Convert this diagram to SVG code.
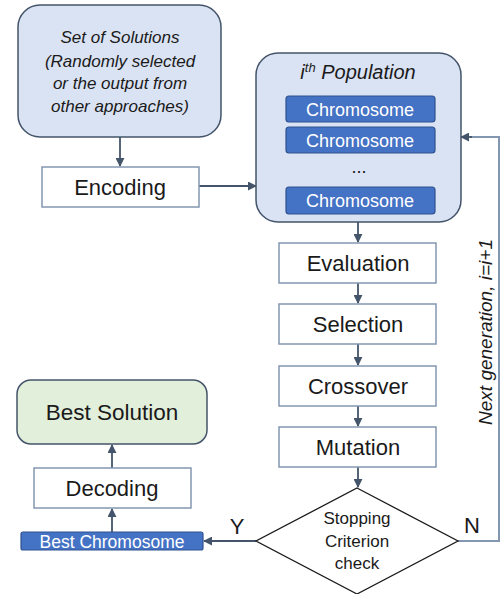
<svg xmlns="http://www.w3.org/2000/svg" width="503" height="594" viewBox="0 0 503 594">
<style>
text{font-family:"Liberation Sans",Arial,sans-serif;fill:#1a1a1a;text-anchor:middle}
.it{font-style:italic}
.step{fill:#ffffff;stroke:#8497b0;stroke-width:1.5}
.stx{font-size:22px}
.chrom{fill:#4472c4;stroke:#2f528f;stroke-width:1.2}
.ct{fill:#ffffff;font-size:18px}
.conn{stroke:#44546a;stroke-width:1.8;fill:none}
.fb{stroke:#8497b0;stroke-width:2;fill:none}
.set{font-size:17px}
.dia{font-size:17px}
</style>
<defs>
<marker id="ah" viewBox="0 0 10 10" refX="9" refY="5" markerWidth="5" markerHeight="5" orient="auto" markerUnits="strokeWidth">
<path d="M0,0 L10,5 L0,10 z" fill="#44546a"/>
</marker>
</defs>
<rect width="503" height="594" fill="#ffffff"/>

<g id="connectors">
<line class="conn" x1="120" y1="137" x2="120" y2="166" marker-end="url(#ah)"/>
<line class="conn" x1="199" y1="186" x2="256" y2="186" marker-end="url(#ah)"/>
<line class="conn" x1="358" y1="222" x2="358" y2="242" marker-end="url(#ah)"/>
<line class="conn" x1="358" y1="283" x2="358" y2="303" marker-end="url(#ah)"/>
<line class="conn" x1="358" y1="344" x2="358" y2="365" marker-end="url(#ah)"/>
<line class="conn" x1="358" y1="406" x2="358" y2="426" marker-end="url(#ah)"/>
<line class="conn" x1="358" y1="467" x2="358" y2="487" marker-end="url(#ah)"/>
<polyline class="fb" points="458,541 499,541 499,137 470,137"/>
<line class="conn" x1="472" y1="137" x2="461" y2="137" marker-end="url(#ah)"/>
<line class="conn" x1="256" y1="541" x2="204" y2="541" marker-end="url(#ah)"/>
<line class="conn" x1="112" y1="532" x2="112" y2="509" marker-end="url(#ah)"/>
<line class="conn" x1="112" y1="468" x2="112" y2="445" marker-end="url(#ah)"/>
</g>

<g id="set-of-solutions">
<rect x="18" y="5" width="203" height="132" rx="22" fill="#dae3f3" stroke="#44546a" stroke-width="1.5"/>
<text class="it set" x="120" y="43">Set of Solutions</text>
<text class="it set" x="120" y="67">(Randomly selected</text>
<text class="it set" x="120" y="89">or the output from</text>
<text class="it set" x="120" y="112">other approaches)</text>
</g>

<g id="encoding">
<rect class="step" x="42" y="167" width="157" height="40"/>
<text class="stx" x="120" y="195">Encoding</text>
</g>

<g id="population">
<rect x="256" y="53" width="205" height="169" rx="22" fill="#dae3f3" stroke="#44546a" stroke-width="1.5"/>
<text class="it" x="358" y="79" font-size="20">i<tspan font-size="13" dy="-7">th</tspan><tspan dy="7"> Population</tspan></text>
<rect class="chrom" x="286" y="96" width="149" height="26" rx="3"/>
<text class="ct" x="360" y="115.5">Chromosome</text>
<rect class="chrom" x="286" y="127" width="149" height="26" rx="3"/>
<text class="ct" x="360" y="146.5">Chromosome</text>
<text x="359" y="173" font-size="18">...</text>
<rect class="chrom" x="286" y="187" width="149" height="27" rx="3"/>
<text class="ct" x="360" y="207">Chromosome</text>
</g>

<g id="evaluation">
<rect class="step" x="279" y="243" width="157" height="40"/>
<text class="stx" x="358" y="271">Evaluation</text>
</g>
<g id="selection">
<rect class="step" x="279" y="304" width="157" height="40"/>
<text class="stx" x="358" y="332">Selection</text>
</g>
<g id="crossover">
<rect class="step" x="279" y="366" width="157" height="40"/>
<text class="stx" x="358" y="394">Crossover</text>
</g>
<g id="mutation">
<rect class="step" x="279" y="427" width="157" height="40"/>
<text class="stx" x="358" y="455">Mutation</text>
</g>

<g id="stopping-check">
<polygon points="357,488 458,541 357,594 256,541" fill="#ffffff" stroke="#1a1a1a" stroke-width="1.3"/>
<text class="dia" x="357" y="524">Stopping</text>
<text class="dia" x="357" y="547">Criterion</text>
<text class="dia" x="357" y="569">check</text>
</g>

<text x="472" y="533" font-size="22">N</text>
<text x="237" y="534" font-size="22">Y</text>
<text class="it" x="0" y="0" font-size="19" transform="translate(492,332) rotate(-90)">Next generation, i=i+1</text>

<g id="best-chromosome">
<rect class="chrom" x="21" y="532" width="182" height="18" rx="2"/>
<text x="112" y="547.5" font-size="17.5" style="fill:#ffffff">Best Chromosome</text>
</g>

<g id="decoding">
<rect class="step" x="34" y="468" width="157" height="40"/>
<text class="stx" x="112" y="496">Decoding</text>
</g>

<g id="best-solution">
<rect x="17" y="380" width="190" height="64" rx="14" fill="#e2efda" stroke="#44546a" stroke-width="1.5"/>
<text x="112" y="420" font-size="22.5">Best Solution</text>
</g>
</svg>
